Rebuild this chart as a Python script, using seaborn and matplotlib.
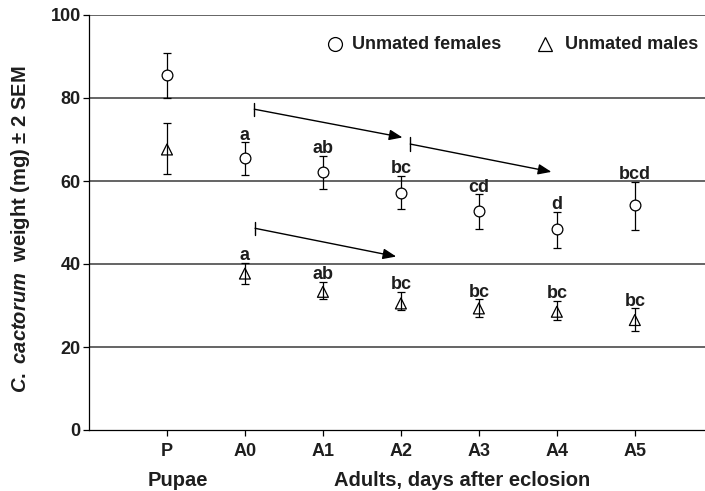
import matplotlib
matplotlib.use("Agg")
import matplotlib.pyplot as plt
import seaborn as sns
import pandas as pd

# data
stages = ["P", "A0", "A1", "A2", "A3", "A4", "A5"]
female_mean = [85.5, 65.5, 62.2, 57.2, 52.8, 48.4, 54.1]
female_top = [90.8, 69.3, 66.1, 61.3, 56.8, 52.6, 59.8]
female_bottom = [80.0, 61.4, 58.1, 53.2, 48.4, 43.8, 48.2]
female_letters = ["", "a", "ab", "bc", "cd", "d", "bcd"]

male_mean = [67.6, 37.7, 33.3, 30.5, 29.3, 28.5, 26.5]
male_top = [74.0, 40.3, 35.7, 33.3, 31.5, 31.2, 29.3]
male_bottom = [61.8, 35.2, 31.5, 28.9, 27.2, 26.5, 23.9]
male_letters = ["", "a", "ab", "bc", "bc", "bc", "bc"]

# trend arrows (category units on x, mg on y)
arrow_x0 = [1.12, 3.12, 1.13]
arrow_y0 = [77.3, 68.9, 48.6]
arrow_x1 = [3.02, 4.93, 2.94]
arrow_y1 = [70.5, 62.2, 41.8]

sns.set_style("white")
plt.rcParams["font.family"] = ["Liberation Sans", "DejaVu Sans"]
plt.rcParams["font.weight"] = "bold"
plt.rcParams["mathtext.fontset"] = "custom"
plt.rcParams["mathtext.it"] = "Liberation Sans:italic:bold"
plt.rcParams["mathtext.rm"] = "Liberation Sans:bold"

FS = 13
TXT = "#1e1e1e"

df = pd.DataFrame({
    "pos": list(range(len(stages))) * 2,
    "weight": female_mean + male_mean,
    "top": female_top + male_top,
    "bottom": female_bottom + male_bottom,
    "letter": female_letters + male_letters,
    "sex": ["Unmated females"] * len(stages) + ["Unmated males"] * len(stages),
})

fig = plt.figure(figsize=(7.05, 4.91), dpi=100)
ax = fig.add_axes([89 / 705, 61 / 491, 616 / 705, 415 / 491])

for y in [20, 40, 60, 80, 100]:
    ax.axhline(y, color="#3a3a3a", lw=1.1, zorder=0)

for sex, grp in df.groupby("sex"):
    ax.errorbar(grp["pos"], grp["weight"],
                yerr=[grp["weight"] - grp["bottom"], grp["top"] - grp["weight"]],
                fmt="none", ecolor="black", elinewidth=0.9, capsize=3.0,
                capthick=0.9, zorder=2)

fem = df[df["sex"] == "Unmated females"]
mal = df[df["sex"] == "Unmated males"]
sns.scatterplot(data=fem, x="pos", y="weight", marker="o", s=60,
                facecolor="white", edgecolor="black", linewidth=0.9,
                ax=ax, zorder=3)
sns.scatterplot(data=mal, x="pos", y="weight", marker="^", s=62,
                facecolor="none", edgecolor="black", linewidth=0.9,
                ax=ax, zorder=3)

for _, r in df.iterrows():
    if r["letter"]:
        ax.annotate(r["letter"], (r["pos"], r["top"]), xytext=(0, -1),
                    textcoords="offset points", ha="center", va="bottom",
                    fontsize=FS, fontweight="bold", color=TXT)

for x0, y0, x1, y1 in zip(arrow_x0, arrow_y0, arrow_x1, arrow_y1):
    ax.annotate("", xy=(x1, y1), xytext=(x0, y0),
                arrowprops=dict(arrowstyle="-|>,head_length=0.8,head_width=0.32",
                                color="black", lw=1.0, shrinkA=0, shrinkB=0))
    ax.plot([x0, x0], [y0 - 1.6, y0 + 1.6], color="black", lw=1.0)

# legend drawn as text + markers like the original
ax.plot([2.16], [93.0], marker="o", ms=10, mfc="none", mec="black", mew=0.9)
ax.text(2.37, 93.0, "Unmated females", va="center", ha="left",
        fontsize=FS, fontweight="bold", color=TXT)
ax.plot([4.85], [93.0], marker="^", ms=10, mfc="none", mec="black", mew=0.9)
ax.text(5.11, 93.0, "Unmated males", va="center", ha="left",
        fontsize=FS, fontweight="bold", color=TXT)

ax.set_xlim(-1, 6.9)
ax.set_ylim(0, 100)
ax.set_xticks(range(len(stages)))
ax.set_xticklabels(stages, fontsize=FS, fontweight="bold", color=TXT)
ax.set_yticks([0, 20, 40, 60, 80, 100])
ax.set_yticklabels(["0", "20", "40", "60", "80", "100"], fontsize=FS,
                   fontweight="bold", color=TXT)
ax.tick_params(axis="both", direction="out", length=4, width=0.9,
               color="black", bottom=True, left=True, pad=2)
ax.tick_params(axis="x", pad=5)
ax.set_xlabel("")
ax.set_ylabel("")

sns.despine(ax=ax, top=True, right=True)
for side in ["left", "bottom"]:
    ax.spines[side].set_linewidth(0.9)
    ax.spines[side].set_color("black")

fig.text(21 / 705, 1 - 229 / 491,
         r"$\mathit{C.\ cactorum}$  weight (mg) $\pm$ 2 SEM",
         rotation=90, ha="center", va="center", fontsize=14.5,
         fontweight="bold", color=TXT)

ax.text(0.14, -0.135, "Pupae", transform=ax.get_xaxis_transform(),
        ha="center", va="baseline", fontsize=14.5, fontweight="bold", color=TXT)
ax.text(3.79, -0.135, "Adults, days after eclosion",
        transform=ax.get_xaxis_transform(), ha="center", va="baseline",
        fontsize=14.5, fontweight="bold", color=TXT)

fig.savefig("out.png", dpi=100)
